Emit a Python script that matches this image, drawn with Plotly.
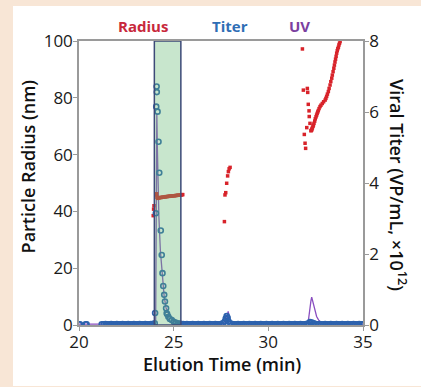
import plotly.graph_objects as go

# ---------------- data ----------------
# Viral titer (x10^12 VP/mL, right axis)
titer_time = [20.0, 20.05, 20.35, 20.4,
              21.2, 21.3, 21.4, 21.5, 21.6, 21.7, 21.8, 21.9, 22.0, 22.1, 22.2, 22.3, 22.4, 22.5,
              22.6, 22.7, 22.8, 22.9, 23.0, 23.1, 23.2, 23.3, 23.4, 23.5, 23.6, 23.7, 23.8, 23.9,
              24.0, 24.02, 24.06, 24.08, 24.10, 24.11, 24.15, 24.20, 24.24, 24.32, 24.37, 24.41,
              24.45, 24.50, 24.54, 24.60, 24.63, 24.66, 24.72, 24.80, 24.90, 25.00, 25.10, 25.20,
              25.30, 25.40, 25.5, 25.6, 25.7, 25.8, 25.9, 26.0, 26.1, 26.2, 26.3, 26.4, 26.5, 26.6,
              26.7, 26.8, 26.9, 27.0, 27.1, 27.2, 27.3, 27.4, 27.5, 27.6, 27.7, 27.75, 27.8, 27.85,
              27.9, 28.0, 28.1, 28.2, 28.3, 28.4, 28.5, 28.6, 28.7, 28.8, 28.9, 29.0, 29.1, 29.2,
              29.3, 29.4, 29.5, 29.6, 29.7, 29.8, 29.9, 30.0, 30.1, 30.2, 30.3, 30.4, 30.5, 30.6,
              30.7, 30.8, 30.9, 31.0, 31.1, 31.2, 31.3, 31.4, 31.5, 31.6, 31.7, 31.8, 31.9, 32.0,
              32.1, 32.2, 32.3, 32.4, 32.5, 32.6, 32.7, 32.8, 32.9, 33.0, 33.1, 33.2, 33.3, 33.4,
              33.5, 33.6, 33.7, 33.8, 33.9, 34.0, 34.1, 34.2, 34.3, 34.4, 34.5, 34.6, 34.7, 34.8,
              34.9, 35.0]
titer_value = [0.02, 0.02, 0.02, 0.02,
               0.02, 0.02, 0.03, 0.02, 0.02, 0.03, 0.02, 0.02, 0.03, 0.02, 0.02, 0.03, 0.02, 0.02,
               0.03, 0.02, 0.02, 0.03, 0.02, 0.02, 0.03, 0.02, 0.02, 0.03, 0.02, 0.02, 0.03, 0.03,
               0.05, 0.34, 3.15, 6.15, 6.72, 6.56, 6.01, 5.16, 4.29, 2.66, 1.97, 1.46,
               1.10, 0.85, 0.66, 0.47, 0.33, 0.30, 0.23, 0.17, 0.14, 0.09, 0.07, 0.05,
               0.04, 0.03, 0.03, 0.02, 0.03, 0.02, 0.02, 0.03, 0.02, 0.02, 0.03, 0.02, 0.02, 0.03,
               0.02, 0.02, 0.03, 0.02, 0.02, 0.03, 0.02, 0.02, 0.03, 0.05, 0.10, 0.18, 0.25, 0.20,
               0.10, 0.04, 0.03, 0.02, 0.02, 0.03, 0.02, 0.02, 0.03, 0.02, 0.02, 0.03, 0.02, 0.02,
               0.03, 0.02, 0.02, 0.03, 0.02, 0.02, 0.03, 0.02, 0.02, 0.03, 0.02, 0.02, 0.03, 0.02,
               0.02, 0.03, 0.02, 0.02, 0.03, 0.02, 0.02, 0.03, 0.02, 0.02, 0.03, 0.02, 0.02, 0.03,
               0.04, 0.08, 0.07, 0.05, 0.03, 0.02, 0.03, 0.02, 0.02, 0.03, 0.02, 0.02, 0.03, 0.02,
               0.02, 0.03, 0.02, 0.02, 0.03, 0.02, 0.02, 0.03, 0.02, 0.02, 0.03, 0.02, 0.02, 0.03,
               0.02, 0.02]

# UV trace (plotted against left axis scale)
uv_time = [20.0, 20.4, 21.2, 23.9, 24.0, 24.05, 24.08, 24.11, 24.14, 24.18, 24.22, 24.30, 24.40,
           24.50, 24.60, 24.80, 25.00, 25.30, 25.60, 27.60, 27.75, 27.82, 27.88, 27.93, 28.00,
           28.10, 32.00, 32.10, 32.15, 32.20, 32.25, 32.29, 32.35, 32.45, 32.55, 32.65, 32.80,
           33.00, 33.50, 35.0]
uv_value = [0.3, 0.3, 0.3, 0.3, 0.3, 2.0, 30.0, 74.5, 62.0, 48.0, 38.0, 26.0, 16.0,
            10.0, 6.0, 3.0, 1.5, 0.6, 0.3, 0.3, 1.0, 3.0, 4.8, 3.0, 1.0,
            0.4, 0.3, 0.8, 4.0, 7.7, 8.5, 9.8, 8.0, 5.0, 3.0, 1.8, 0.8,
            0.4, 0.3, 0.3]

# Particle radius (nm, left axis)
radius_time = [23.92, 23.94, 23.96, 24.08, 24.10, 24.12,
               24.15, 24.20, 24.25, 24.30, 24.35, 24.40, 24.45, 24.50, 24.55, 24.60, 24.65, 24.70,
               24.75, 24.80, 24.85, 24.90, 24.95, 25.00, 25.05, 25.10, 25.15, 25.20, 25.25, 25.30,
               25.35, 25.40, 25.44, 25.48,
               27.68, 27.71, 27.75, 27.80, 27.85, 27.89, 27.93, 27.98,
               31.80, 31.85, 31.90, 31.94, 31.97, 32.03, 32.06, 32.08, 32.11, 32.15, 32.16, 32.20,
               32.25, 32.27, 32.29, 32.31, 32.33, 32.36, 32.38, 32.41, 32.45, 32.48, 32.52, 32.55,
               32.58, 32.61, 32.64, 32.68, 32.73, 32.78, 32.85, 32.92, 33.00, 33.04, 33.08, 33.12,
               33.17, 33.21, 33.26, 33.30, 33.35, 33.38, 33.42, 33.46, 33.49, 33.52, 33.55, 33.58,
               33.61, 33.64, 33.67, 33.70, 33.73, 33.76, 33.79]
radius_value = [38.5, 40.8, 42.0, 45.8, 46.2, 45.0,
                44.6, 44.7, 44.8, 44.9, 44.9, 45.0, 45.0, 45.1, 45.1, 45.2, 45.2, 45.3,
                45.3, 45.4, 45.4, 45.4, 45.5, 45.5, 45.5, 45.6, 45.6, 45.7, 45.7, 45.7,
                45.8, 45.8, 45.9, 45.9,
                36.4, 45.8, 46.6, 49.9, 52.5, 54.0, 55.0, 55.5,
                97.2, 82.7, 67.1, 64.0, 62.2, 69.5, 83.3, 81.9, 77.7, 75.4, 73.4, 71.0,
                68.4, 68.5, 68.7, 69.1, 69.5, 70.0, 70.4, 71.0, 71.8, 72.6, 73.3, 73.9,
                74.5, 75.0, 75.5, 76.2, 76.9, 77.4, 78.0, 78.6, 79.2, 79.8, 80.5, 81.3,
                82.2, 83.3, 84.5, 85.7, 86.9, 88.0, 89.2, 90.4, 91.5, 92.6, 93.6, 94.6,
                95.7, 96.6, 97.3, 97.8, 98.6, 99.2, 99.8]

x_ticks = [20, 25, 30, 35]
left_ticks = [0, 20, 40, 60, 80, 100]
right_ticks = [0, 2, 4, 6, 8]

# ---------------- figure ----------------
FONT = "Open Sans"
red = "#d8232a"
blue = "#2d62ad"
purple = "#8a4fc0"

fig = go.Figure()

fig.add_trace(go.Scatter(
    x=uv_time, y=uv_value, mode="lines",
    line=dict(color=purple, width=1.3), yaxis="y", showlegend=False))

fig.add_trace(go.Scatter(
    x=titer_time, y=titer_value, mode="markers",
    marker=dict(symbol="circle-open", size=5, color=blue, line=dict(width=1.6, color=blue)),
    yaxis="y2", showlegend=False))

fig.add_trace(go.Scatter(
    x=radius_time, y=radius_value, mode="markers",
    marker=dict(symbol="square", size=3.5, color=red, line=dict(width=0)),
    yaxis="y", showlegend=False))

axis_common = dict(
    showgrid=False, zeroline=False, showline=True, linecolor="#9a9a9a", linewidth=1.5,
    ticks="outside", ticklen=4, tickcolor="#9a9a9a", tickwidth=1,
    tickfont=dict(family=FONT, size=17, color="#1a1a1a"),
)

def ann(text, x, y, size, color, weight, angle=0):
    return dict(text=text, x=x, y=y, xref="paper", yref="paper", showarrow=False,
                xanchor="center", yanchor="middle", textangle=angle,
                font=dict(family=FONT, size=size, color=color, weight=weight))

fig.update_layout(
    width=421, height=387,
    margin=dict(l=79, r=58, t=41, b=62),
    paper_bgcolor="#f8e6d6",
    plot_bgcolor="white",
    xaxis=dict(range=[20, 35], tickvals=x_ticks, mirror=True, ticklabelstandoff=-3, **axis_common),
    yaxis=dict(range=[0, 100], tickvals=left_ticks, ticklabelstandoff=-3, **axis_common),
    yaxis2=dict(range=[0, 8], tickvals=right_ticks, overlaying="y", side="right",
                ticklabelstandoff=-3, **axis_common),
    shapes=[
        dict(type="rect", xref="paper", yref="paper", x0=-0.2324, x1=1.21, y0=-0.215, y1=1.123,
             fillcolor="white", line=dict(width=0), layer="below"),
        dict(type="rect", xref="x", yref="y", x0=23.98, x1=25.38, y0=0, y1=100,
             fillcolor="rgba(98,184,112,0.35)", line=dict(color="#3d4a78", width=1.5),
             layer="above"),
    ],
    annotations=[
        ann("Radius", 0.225, 1.053, 15, "#c8283c", 700),
        ann("Titer", 0.532, 1.053, 15, "#2f6eb5", 700),
        ann("UV", 0.778, 1.053, 15, "#7b3fa0", 700),
        ann("Elution Time (min)", 0.5035, -0.136, 18, "#111", 600),
        ann("Particle Radius (nm)", -0.18, 0.558, 18, "#111", 600, -90),
        ann("Viral Titer (VP/mL, ×10<sup>12</sup>)", 1.123, 0.493, 18, "#111", 600, 90),
    ],
)

fig.write_html("out.html", config={"displayModeBar": False},
               post_script="document.body.style.margin='0';document.body.style.overflow='hidden';")
